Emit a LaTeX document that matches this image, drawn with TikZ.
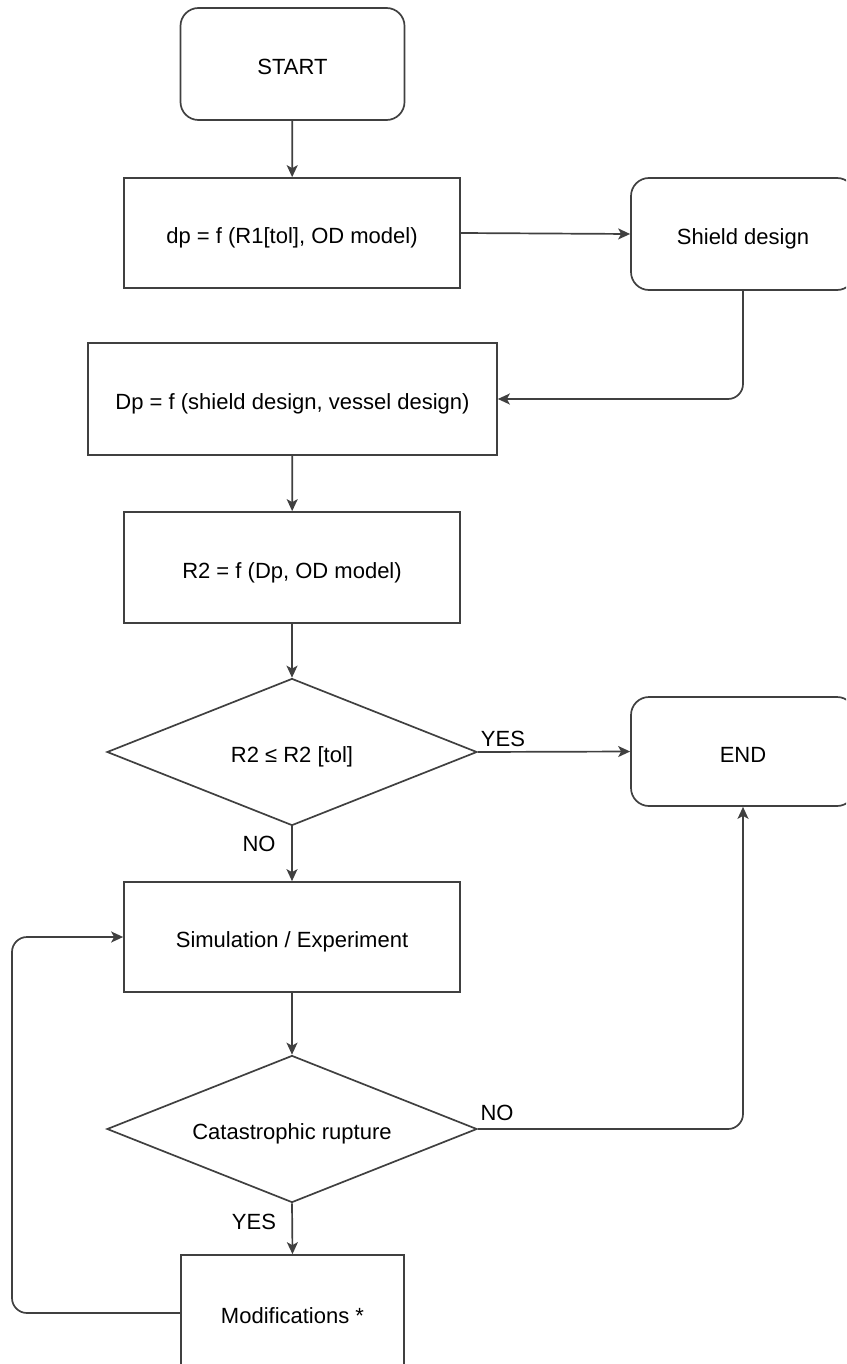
\documentclass[tikz,border=0pt]{standalone}
\usepackage{fontspec}
\setmainfont{Liberation Sans}
\usetikzlibrary{shapes.geometric,arrows.meta}
\begin{document}
\begin{tikzpicture}[x=1pt,y=-1pt,
  font=\fontsize{22}{26}\selectfont,
  line width=1.7pt,
  every node/.style={draw=black!75, line width=1.7pt, inner sep=2pt, align=center, text height=21pt, text depth=0pt},
  rbox/.style={rectangle, rounded corners=18pt, minimum width=224pt, minimum height=112pt},
  sbox/.style={rectangle, minimum width=336pt, minimum height=110pt},
  dec/.style={diamond, aspect=2.5, inner sep=0pt, minimum width=370pt, minimum height=147pt},
  lbl/.style={draw=none, inner sep=0pt, text height=16pt, text depth=0pt},
  conn/.style={draw=black!75, -{Stealth[length=12pt,width=11pt,inset=3pt]}, rounded corners=15pt}
]
\useasboundingbox (0,0) rectangle (846,1364);
\clip (0,0) rectangle (846,1364);

\node[rbox] (start) at (292.5,64) {START};
\node[sbox] (b1) at (292,233) {dp = f (R1[tol], OD model)};
\node[rbox] (shield) at (743,234) {Shield design};
\node[sbox, minimum width=409pt, minimum height=112pt] (b2) at (292.5,399) {Dp = f (shield design, vessel design)};
\node[sbox, minimum height=111pt] (b3) at (292,567.5) {R2 = f (Dp, OD model)};
\node[dec] (d1) at (292,752) {R2 ≤ R2 [tol]};
\node[rbox, minimum height=109pt] (endn) at (743,751.5) {END};
\node[sbox] (sim) at (292,937) {Simulation / Experiment};
\node[dec] (d2) at (292,1129) {Catastrophic rupture};
\node[sbox, minimum width=223pt, minimum height=116pt] (mod) at (292.5,1313) {Modifications *};

\node[lbl] (yes1) at (503,738) {YES};
\node[lbl] (no1) at (259,843) {NO};
\node[lbl] (no2) at (497,1112) {NO};
\node[lbl] (yes2) at (254,1221) {YES};

\coordinate (loopc) at (12,1313);

\draw[conn] (start) -- (b1);
\draw[conn] (b1.east) -- (shield.west);
\draw[conn] (shield.south) |- (b2.east);
\draw[conn] (b2) -- (b3);
\draw[conn] (b3) -- (d1);
\draw[conn] (d1.east) -- (endn.west);
\draw[conn] (d1.south) -- (sim.north);
\draw[conn] (sim) -- (d2);
\draw[conn] (d2.east) -| (endn.south);
\draw[conn] (d2.south) -- (mod.north);
\draw[conn] (mod.west) -- (loopc) |- (sim.west);
\end{tikzpicture}
\end{document}
